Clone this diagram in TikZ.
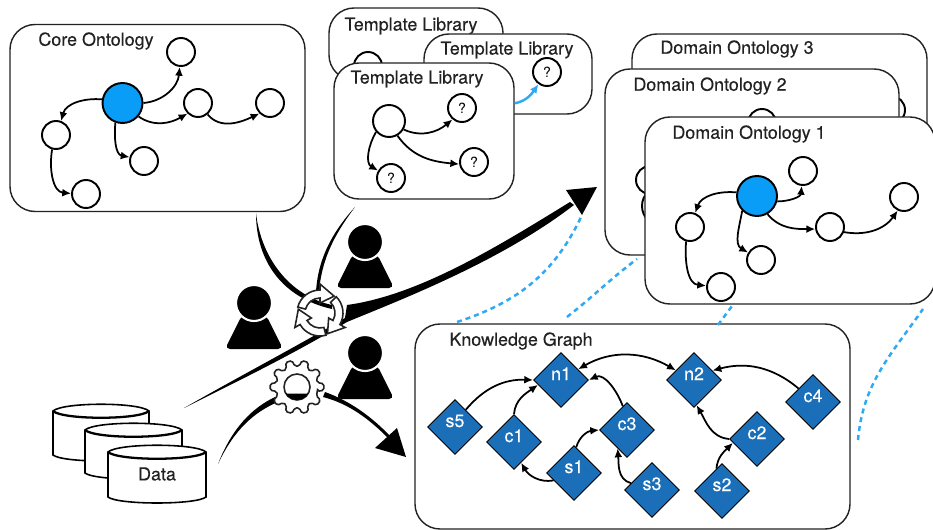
\documentclass[tikz,border=0pt]{standalone}
\usepackage{fontspec,
			xcolor
			}
\setmainfont{TeX Gyre Heros}
\newfontfamily\namefont{TeX Gyre Heros}[FakeBold=0.25]
\usetikzlibrary{shapes.geometric, arrows.meta}
\definecolor{rootblue}{HTML}{0A9DF8}
\definecolor{kgblue}{HTML}{1A6FB8}
\definecolor{dashblue}{HTML}{2FA9F2}
\definecolor{ink}{HTML}{222222}
\tikzset{
	panel/.style 2 args={draw=ink, fill=white, line width=0.8pt, rounded corners=0.5cm, inner sep=0pt, minimum width=#1*0.02cm, minimum height=#2*0.02cm},
	panelname/.style={text=ink, inner sep=0pt, yshift=-0.04cm, font=\namefont\fontsize{10.2}{12}\selectfont},
	cnode/.style={circle, draw=black, fill=white, line width=1.1pt, inner sep=0pt, minimum size=0.56cm, font=\fontsize{8}{9}\selectfont},
	rootnode/.style={cnode, fill=rootblue, minimum size=0.8cm},
	kgnode/.style={diamond, aspect=1, draw=black, line width=0.5pt, fill=kgblue, text=white, inner sep=0pt, minimum size=1.1cm, text height=0.2cm, text depth=0.2cm, font=\namefont\fontsize{10.2}{12}\selectfont},
	link/.style={->, line width=1pt},
	bluelink/.style={link, draw=dashblue, line width=1.4pt},
	dashlink/.style={draw=dashblue, line width=0.05cm, dash pattern=on 0.1cm off 0.08cm},
	brush/.style={fill=black},
	head/.style={circle, fill=black, draw=white, line width=1.2pt, inner sep=0pt, minimum size=0.72cm},
	drumline/.style={draw=black, fill=white, line width=0.9pt},
	iconline/.style={draw=ink, fill=white, line width=0.9pt}
}
\begin{document}
\begin{tikzpicture}[x=0.02cm, y=-0.02cm, >={Latex[length=5pt,width=4.5pt]}]
	\useasboundingbox (0,0) rectangle (933,530);

	% core
	\node[panel={295}{187}] (core) at (157.5,118) {};
	\node[panelname] (corename) at (96,39) {Core Ontology};
	\node[rootnode] (coreroot) at (122.5,103) {};
	\node[cnode] (coretop) at (181,52) {};
	\node[cnode] (coremid) at (198,103) {};
	\node[cnode] (corefar) at (270,103) {};
	\node[cnode] (coreleft) at (56,135) {};
	\node[cnode] (corelow) at (144,161) {};
	\node[cnode] (corebot) at (86,194) {};
	\draw[link] (coreroot.east) to[out=5,in=-95] (coretop.-95);
	\draw[link] (coreroot.-40) to[out=-35,in=-150] (coremid.-135);
	\draw[link] (coremid.-50) to[out=-50,in=-155] (corefar.-135);
	\draw[link] (coreroot.170) to[out=175,in=75] (coreleft.70);
	\draw[link] (coreroot.-110) to[out=-95,in=170] (corelow.165);
	\draw[link] (coreleft.-105) to[out=-100,in=175] (corebot.178);

	% templates
	\node[panel={174}{72}] (tplback) at (416,44) {};
	\node[panelname] (tplbackname) at (411,24) {Template Library};
	\node[cnode] (tplbackroot) at (368,66) {};
	\node[panel={168}{80}] (tplmid) at (508,74) {};
	\node[panelname] (tplmidname) at (507,48) {Template Library};
	\node[cnode] (tplmidq) at (547,72) {?};
	\node[panel={180}{136}] (tplfront) at (424,131) {};
	\draw[bluelink] (tplfront.17) to[out=10,in=-125] (tplmidq.-125);
	\node[panelname] (tplfrontname) at (417,77) {Template Library};
	\node[cnode, minimum size=0.64cm] (tplroot) at (389,121) {};
	\node[cnode] (tplqa) at (462,108) {?};
	\node[cnode] (tplqb) at (474,162) {?};
	\node[cnode] (tplqc) at (391,178) {?};
	\draw[link] (tplroot.-30) to[out=-25,in=-140] (tplqa.-130);
	\draw[link] (tplroot.-60) to[out=-55,in=175] (tplqb.-172);
	\draw[link] (tplroot.-140) to[out=-120,in=150] (tplqc.150);

	% domains
	\node[panel={295}{132}] (domthree) at (779.5,100) {};
	\node[panelname] (domthreename) at (737,47) {Domain Ontology 3};
	\node[cnode] (domthreenode) at (891,110) {};
	\node[panel={294}{186}] (domtwo) at (752,162) {};
	\node[panelname] (domtwoname) at (710,84) {Domain Ontology 2};
	\node[cnode] (domtwotop) at (762,123) {};
	\node[cnode] (domtwoleft) at (650,180) {};
	\node[cnode, minimum size=0.8cm] (domtworoot) at (662,206) {};
	\node[panel={290}{187}] (domone) at (790,210.5) {};
	\node[panelname] (domonename) at (749,132) {Domain Ontology 1};
	\node[rootnode] (domroot) at (757,196) {};
	\node[cnode] (domtop) at (803,171) {};
	\node[cnode] (dommid) at (830,227) {};
	\node[cnode] (domfar) at (904,197) {};
	\node[cnode] (domleft) at (690,227) {};
	\node[cnode] (domlow) at (761,260) {};
	\node[cnode] (dombot) at (721,287) {};
	\draw[link] (domroot.-15) to[out=0,in=-95] (domtop.-95);
	\draw[link] (domroot.-60) to[out=-50,in=180] (dommid.-172);
	\draw[link] (dommid.-20) to[out=-10,in=-125] (domfar.-115);
	\draw[link] (domroot.170) to[out=175,in=70] (domleft.70);
	\draw[link] (domroot.-135) to[out=-100,in=150] (domlow.150);
	\draw[link] (domleft.-105) to[out=-95,in=175] (dombot.175);

	% knowledge graph
	\node[panel={435}{205}] (kg) at (632.5,426.5) {};
	\node[panelname] (kgname) at (521,339) {Knowledge Graph};
	\node[kgnode] (nA) at (561,380) {n1};
	\node[kgnode] (nB) at (694,380) {n2};
	\node[kgnode] (cD) at (813,402) {c4};
	\node[kgnode] (cB) at (757,439) {c2};
	\node[kgnode] (cC) at (627,430) {c3};
	\node[kgnode] (cA) at (514,442) {c1};
	\node[kgnode] (sE) at (455,427) {s5};
	\node[kgnode] (sA) at (574,473) {s1};
	\node[kgnode] (sC) at (652,490) {s3};
	\node[kgnode] (sB) at (722,491) {s2};
	\draw[link] (sE.58) to[out=50,in=178] (nA.west);
	\draw[link] (cA.north) to[out=85,in=215] (nA.192);
	\draw[link] (cC.100) to[out=110,in=25] (nA.east);
	\draw[link] (sA.85) to[out=75,in=185] (cC.west);
	\draw[link] (sA.200) to[out=190,in=-60] (cA.-71);
	\draw[link] (sC.162) to[out=165,in=-85] (cC.-117);
	\draw[link] (sB.104) to[out=85,in=225] (cB.189);
	\draw[link] (cB.west) to[out=175,in=-60] (nB.-84);
	\draw[link] (cD.137) to[out=140,in=15] (nB.27);
	\draw[link, <->] (nA.32) to[out=30,in=150] (nB.152);

	% data
	\foreach \dl/\dr/\dy/\db in {53/149/411/455, 85/182/430/473, 108/206/452/497}{
		\draw[drumline] (\dl,\dy) -- (\dl,\db) .. controls (\dl+10,\db+8) and (\dr-10,\db+8) .. (\dr,\db) -- (\dr,\dy) .. controls (\dr-10,\dy-9) and (\dl+10,\dy-9) .. cycle;
		\draw[line width=1.3pt] (\dl,\dy) .. controls (\dl+10,\dy+9) and (\dr-10,\dy+9) .. (\dr,\dy);
	}
	\node[panelname, yshift=0.04cm] (data) at (157,474) {Data};

	% users
	\foreach \px/\py/\n in {254/303/a, 365/242/b, 365/353/c}{
		\fill[rounded corners=0.1cm] (\px-12,\py+12) -- (\px-29,\py+46) -- (\px+29,\py+46) -- (\px+12,\py+12) -- cycle;
		\node[head] (head\n) at (\px,\py) {};
	}

	% brush strokes
	\coordinate (coretail) at (256,213);
	\coordinate (tpltail) at (355,207);
	\coordinate (longtail) at (184,408);
	\coordinate (bigtip) at (582,215);
	\coordinate (datatail) at (218,464);
	\coordinate (smalltip) at (406,457);
	\fill[brush] (coretail) .. controls (256,262) and (283,298) .. (332,309) -- (332,305) .. controls (290,296) and (261,258) .. (coretail);
	\fill[brush] (tpltail) .. controls (336,228) and (318,255) .. (316,292) -- (319,292) .. controls (322,255) and (338,230) .. (tpltail);
	\fill[brush] (longtail) .. controls (240,380) and (290,356) .. (347,322) .. controls (400,300) and (500,262) .. (574,205) -- (570,202) .. controls (500,245) and (420,295) .. (347,305) -- (345,318) .. controls (290,350) and (240,376) .. (longtail);
	\fill[brush] (566,190) -- (597,187) -- (bigtip) -- cycle;
	\fill[brush] (datatail) .. controls (234,430) and (254,412) .. (278,402) -- (275,397) .. controls (252,408) and (232,428) .. (datatail);
	\fill[brush] (323,397) .. controls (350,404) and (370,420) .. (388,438) -- (390,436) .. controls (372,417) and (350,401) .. (325,392) -- cycle;
	\fill[brush] (397,428) -- (375,448) -- (smalltip) -- cycle;

	% dashed trace links
	\coordinate (kgtaila) at (457,322);
	\coordinate (kgtailb) at (567,317);
	\coordinate (domtipb) at (637,259);
	\coordinate (kgtailc) at (718,325);
	\coordinate (domtipc) at (732,306);
	\coordinate (looptail) at (858,440);
	\coordinate (domtipd) at (923,309);
	\draw[dashlink] (kgtaila) to[out=18,in=-115] (bigtip);
	\draw[dashlink] (kgtailb) to[out=38,in=217] (domtipb);
	\draw[dashlink] (kgtailc) -- (domtipc);
	\draw[dashlink] (looptail) to[out=85,in=-125] (domtipd);

	% refresh icon
	\begin{scope}[shift={(320,313)}]
		\foreach \a in {90,-30,210}{
			\draw[iconline] (\a+75:0.46cm) arc[start angle=\a+75, end angle=\a, radius=0.46cm] -- (\a:0.58cm) -- (\a-40:0.44cm) -- (\a:0.2cm) -- (\a:0.3cm) arc[start angle=\a, end angle=\a+75, radius=0.3cm] -- cycle;
		}
	\end{scope}

	% gear icon
	\begin{scope}[shift={(297,387)}]
		\draw[iconline, rounded corners=1pt] (-12:0.42cm) \foreach \a in {0,36,...,324}{ -- (\a-12:0.42cm) -- (\a-7:0.54cm) -- (\a+7:0.54cm) -- (\a+12:0.42cm)} -- cycle;
		\draw[iconline] (0,0) circle[radius=0.26cm];
		\fill (-30:0.26cm) arc[start angle=-30, end angle=-150, radius=0.26cm] -- cycle;
	\end{scope}
\end{tikzpicture}
\end{document}
